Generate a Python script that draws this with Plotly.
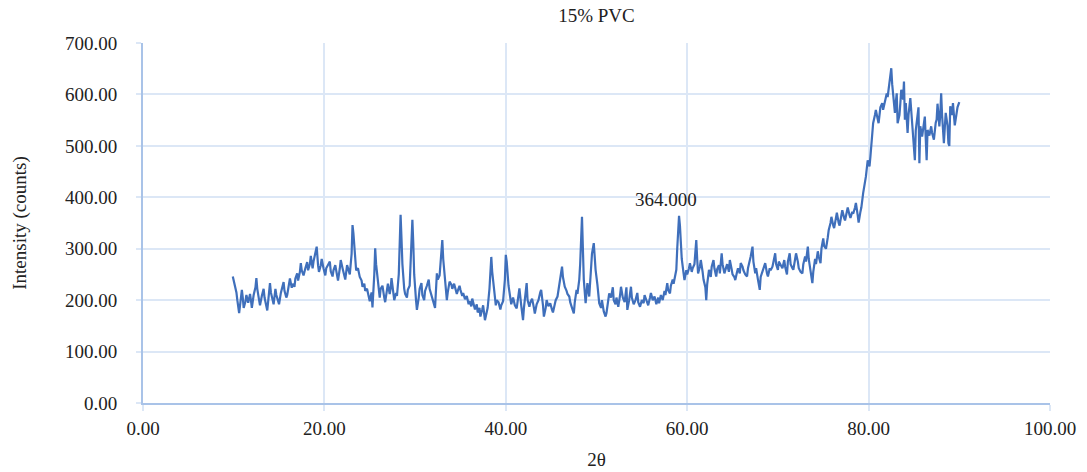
import plotly.graph_objects as go

# XRD scan of the 15% PVC sample, stored in 10-degree blocks:
# diffraction angle 2θ (degrees) and intensity (counts)
theta_10 = [9.9, 10.1, 10.3, 10.4, 10.6, 10.7, 10.9, 11.0, 11.1, 11.3, 11.4, 11.6, 11.8, 11.9, 12.0,
            12.2, 12.4, 12.5, 12.6, 12.8, 12.9, 13.1, 13.3, 13.4, 13.5, 13.7, 13.9, 14.0, 14.1, 14.3,
            14.4, 14.6, 14.7, 14.9, 15.0, 15.2, 15.4, 15.5, 15.6, 15.8, 15.9, 16.1, 16.2, 16.4, 16.5,
            16.7, 16.8, 17.0, 17.1, 17.3, 17.4, 17.5, 17.7, 17.9, 18.1, 18.2, 18.4, 18.5, 18.7, 18.8,
            19.0, 19.15, 19.3, 19.4, 19.6, 19.7, 19.9]
counts_10 = [246, 232, 215, 200, 175, 190, 220, 205, 185, 198, 210, 195, 212, 200, 185,
             210, 225, 243, 222, 200, 190, 208, 222, 205, 195, 180, 215, 233, 215, 200,
             192, 222, 210, 198, 192, 214, 225, 235, 218, 205, 210, 232, 242, 224, 232,
             226, 242, 252, 238, 255, 272, 258, 248, 262, 274, 258, 270, 286, 262, 275,
             292, 304, 268, 255, 268, 280, 262]

theta_20 = [20.1, 20.2, 20.4, 20.6, 20.7, 20.9, 21.0, 21.2, 21.4, 21.5, 21.7, 21.8, 22.0, 22.2, 22.3,
            22.5, 22.7, 22.8, 23.0, 23.1, 23.2, 23.4, 23.5, 23.7, 23.9, 24.1, 24.2, 24.4, 24.5, 24.7,
            24.9, 25.0, 25.2, 25.3, 25.5, 25.6, 25.7, 25.9, 26.1, 26.2, 26.4, 26.6, 26.7, 26.9, 27.0,
            27.2, 27.3, 27.4, 27.6, 27.7, 27.9, 28.0, 28.2, 28.4, 28.5, 28.6, 28.8, 28.9, 29.1, 29.2,
            29.4, 29.5, 29.7, 29.8, 29.9]
counts_20 = [248, 262, 270, 275, 256, 246, 258, 268, 248, 238, 262, 278, 262, 248, 240,
             268, 258, 250, 290, 346, 330, 280, 258, 262, 245, 238, 226, 232, 218, 222,
             205, 198, 215, 186, 250, 301, 270, 230, 205, 222, 228, 205, 196, 220, 232,
             212, 222, 243, 212, 200, 214, 208, 250, 366, 320, 270, 222, 212, 205, 220,
             228, 270, 356, 310, 250]

theta_30 = [30.1, 30.2, 30.4, 30.5, 30.7, 30.8, 31.0, 31.1, 31.3, 31.5, 31.6, 31.8, 31.9, 32.1, 32.2,
            32.4, 32.5, 32.7, 32.9, 33.0, 33.1, 33.3, 33.5, 33.6, 33.8, 34.0, 34.1, 34.3, 34.4, 34.6,
            34.7, 34.9, 35.0, 35.2, 35.3, 35.5, 35.7, 35.9, 36.0, 36.2, 36.3, 36.5, 36.6, 36.8, 36.9,
            37.1, 37.2, 37.4, 37.5, 37.7, 37.9, 38.0, 38.2, 38.4, 38.5, 38.7, 38.9, 39.0, 39.2, 39.4,
            39.5, 39.7, 39.9]
counts_30 = [200, 181, 205, 222, 233, 210, 200, 218, 228, 240, 222, 210, 205, 195, 185,
             252, 240, 248, 285, 317, 280, 240, 200, 215, 236, 230, 222, 232, 226, 212,
             218, 228, 220, 208, 214, 202, 208, 192, 198, 188, 203, 190, 182, 192, 176,
             185, 168, 182, 190, 161, 178, 185, 222, 284, 255, 215, 190, 200, 196, 182,
             190, 198, 240]

theta_40 = [40.0, 40.1, 40.3, 40.5, 40.6, 40.8, 41.0, 41.2, 41.3, 41.5, 41.7, 41.9, 42.0, 42.2, 42.3,
            42.4, 42.6, 42.7, 42.9, 43.1, 43.2, 43.4, 43.6, 43.8, 43.9, 44.1, 44.2, 44.4, 44.5, 44.7,
            44.9, 45.1, 45.2, 45.4, 45.5, 45.7, 45.9, 46.0, 46.2, 46.3, 46.5, 46.7, 46.8, 47.0, 47.1,
            47.3, 47.5, 47.6, 47.8, 47.9, 48.1, 48.2, 48.4, 48.5, 48.6, 48.8, 48.9, 49.0, 49.2, 49.3,
            49.5, 49.7, 49.8, 49.9]
counts_40 = [288, 275, 228, 200, 192, 205, 190, 184, 200, 223, 190, 161, 185, 220, 233,
             200, 187, 195, 203, 185, 174, 192, 200, 215, 220, 190, 168, 185, 200, 188,
             194, 181, 176, 192, 200, 207, 230, 250, 265, 245, 226, 218, 212, 207, 196,
             185, 174, 195, 220, 212, 240, 270, 362, 300, 240, 194, 215, 233, 207, 240,
             290, 311, 280, 259]

theta_50 = [50.1, 50.3, 50.5, 50.6, 50.8, 51.0, 51.1, 51.3, 51.4, 51.6, 51.8, 51.9, 52.1, 52.2, 52.4,
            52.6, 52.7, 52.9, 53.1, 53.3, 53.4, 53.6, 53.8, 53.9, 54.1, 54.3, 54.5, 54.6, 54.8, 55.0,
            55.2, 55.3, 55.5, 55.7, 55.9, 56.0, 56.2, 56.4, 56.6, 56.8, 56.9, 57.1, 57.3, 57.5, 57.6,
            57.8, 57.9, 58.1, 58.2, 58.4, 58.5, 58.7, 58.8, 58.9, 59.0, 59.1, 59.2, 59.3, 59.4, 59.6,
            59.7, 59.9]
counts_50 = [230, 194, 185, 200, 178, 168, 175, 200, 213, 205, 225, 200, 192, 205, 187,
             210, 226, 205, 196, 225, 181, 200, 226, 205, 192, 200, 214, 196, 187, 200,
             194, 210, 198, 190, 205, 214, 200, 207, 192, 205, 194, 210, 200, 218, 210,
             233, 220, 213, 228, 240, 232, 250, 259, 300, 340, 364, 345, 310, 280, 252,
             239, 258]

theta_60 = [60.0, 60.2, 60.3, 60.5, 60.6, 60.8, 60.9, 61.0, 61.1, 61.2, 61.4, 61.5, 61.7, 61.8, 62.0,
            62.1, 62.2, 62.4, 62.6, 62.7, 62.9, 63.0, 63.2, 63.3, 63.5, 63.6, 63.8, 63.9, 64.1, 64.3,
            64.4, 64.6, 64.7, 64.9, 65.0, 65.2, 65.3, 65.5, 65.6, 65.8, 65.9, 66.1, 66.2, 66.4, 66.6,
            66.7, 66.9, 67.0, 67.2, 67.3, 67.5, 67.6, 67.8, 68.0, 68.1, 68.3, 68.5, 68.6, 68.8, 68.9,
            69.1, 69.2, 69.4, 69.5, 69.7, 69.8]
counts_60 = [250, 262, 272, 255, 262, 270, 290, 317, 280, 252, 265, 278, 255, 240, 225,
             200, 230, 259, 245, 265, 278, 262, 246, 260, 268, 252, 291, 270, 252, 262,
             270, 255, 278, 260, 250, 245, 239, 255, 262, 252, 272, 265, 258, 250, 246,
             262, 275, 285, 304, 275, 252, 262, 240, 220, 245, 255, 268, 272, 252, 246,
             262, 258, 265, 275, 291, 270]

theta_70 = [70.0, 70.1, 70.3, 70.5, 70.7, 70.8, 71.0, 71.1, 71.3, 71.4, 71.6, 71.7, 71.9, 72.0, 72.2,
            72.3, 72.5, 72.7, 72.8, 73.0, 73.1, 73.3, 73.4, 73.6, 73.8, 73.9, 74.1, 74.2, 74.4, 74.5,
            74.7, 74.8, 75.0, 75.1, 75.3, 75.5, 75.6, 75.8, 75.9, 76.1, 76.2, 76.4, 76.5, 76.7, 76.8,
            77.0, 77.1, 77.3, 77.4, 77.6, 77.7, 77.9, 78.0, 78.2, 78.3, 78.5, 78.6, 78.8, 78.9, 79.1,
            79.2, 79.4, 79.6, 79.7, 79.9]
counts_70 = [259, 275, 268, 262, 278, 265, 250, 275, 291, 270, 262, 259, 280, 291, 275,
             262, 255, 252, 270, 285, 275, 304, 280, 260, 233, 255, 280, 270, 295, 285,
             272, 300, 320, 305, 300, 322, 336, 350, 362, 345, 340, 360, 370, 350, 345,
             365, 375, 360, 355, 372, 380, 365, 360, 372, 368, 380, 389, 365, 351, 372,
             380, 408, 425, 440, 472]

theta_80 = [80.1, 80.2, 80.4, 80.5, 80.7, 80.8, 81.0, 81.1, 81.3, 81.5, 81.6, 81.8, 82.0, 82.1, 82.3,
            82.5, 82.6, 82.7, 82.9, 83.0, 83.1, 83.2, 83.4, 83.5, 83.6, 83.8, 83.9, 84.0, 84.1, 84.3,
            84.4, 84.6, 84.8, 85.0, 85.1, 85.2, 85.4, 85.5, 85.6, 85.7, 85.9, 86.0, 86.2, 86.4, 86.5,
            86.7, 86.9, 87.0, 87.2, 87.4, 87.5, 87.6, 87.8, 87.9, 88.0, 88.1, 88.3, 88.4, 88.5, 88.7,
            88.8, 88.9, 89.0, 89.2, 89.3, 89.5, 89.7, 89.8, 90.0]
counts_80 = [460, 479, 520, 544, 560, 570, 552, 544, 575, 583, 570, 588, 602, 595, 625,
             651, 620, 596, 564, 585, 602, 544, 560, 583, 609, 590, 625, 551, 583, 525,
             560, 593, 540, 499, 472, 530, 564, 575, 466, 538, 518, 530, 557, 472, 531,
             520, 538, 525, 512, 545, 551, 582, 538, 560, 602, 560, 505, 535, 564, 540,
             505, 500, 577, 560, 583, 540, 560, 575, 585]

two_theta = theta_10 + theta_20 + theta_30 + theta_40 + theta_50 + theta_60 + theta_70 + theta_80
intensity = counts_10 + counts_20 + counts_30 + counts_40 + counts_50 + counts_60 + counts_70 + counts_80

# labelled reflection
peak_angle = 59.1
peak_value = 364

x_ticks = [0, 20, 40, 60, 80, 100]
y_ticks = [0, 100, 200, 300, 400, 500, 600, 700]

FONT = "Liberation Serif, Times New Roman, serif"
GRID = "#dce7f6"
AXIS = "#a9c3e8"

fig = go.Figure()
fig.add_trace(go.Scatter(
    x=two_theta,
    y=intensity,
    mode="lines",
    line=dict(color="#3f6fbb", width=2.2),
    showlegend=False,
))

fig.add_annotation(
    x=peak_angle, y=peak_value,
    text=f"{peak_value:.3f}",
    showarrow=False,
    xshift=-13, yshift=16,
    yanchor="middle",
    font=dict(family=FONT, size=19, color="#222222"),
)

fig.update_layout(
    width=1087, height=472,
    margin=dict(l=143, r=37, t=43, b=69),
    paper_bgcolor="white",
    plot_bgcolor="white",
    font=dict(family=FONT, size=19, color="#222222"),
    title=dict(
        text="15% PVC",
        x=(143 + 1050) / 2 / 1087, xanchor="center",
        y=1 - 15 / 472, yanchor="middle",
        font=dict(family=FONT, size=19, color="#222222"),
    ),
)

fig.update_xaxes(
    range=[0, 100],
    tickvals=x_ticks,
    ticktext=[f"{v:.2f}" for v in x_ticks],
    showgrid=True, gridcolor=GRID, gridwidth=1.5,
    showline=True, linecolor=AXIS, linewidth=2,
    ticks="outside", ticklen=6, tickcolor=GRID, tickwidth=1.5,
    ticklabelstandoff=1,
    zeroline=False,
    automargin=False,
    title=dict(text="2θ", standoff=15, font=dict(family=FONT, size=19)),
)
fig.update_yaxes(
    range=[0, 700],
    tickvals=y_ticks,
    ticktext=[f"{v:.2f}" for v in y_ticks],
    showgrid=True, gridcolor=GRID, gridwidth=1.5,
    showline=True, linecolor=AXIS, linewidth=2,
    ticks="outside", ticklen=5, tickcolor=GRID, tickwidth=1.5,
    ticklabelstandoff=15,
    zeroline=False,
    automargin=False,
    title=dict(text="Intensity (counts)", standoff=33, font=dict(family=FONT, size=19)),
)

fig.write_html("out.html")
